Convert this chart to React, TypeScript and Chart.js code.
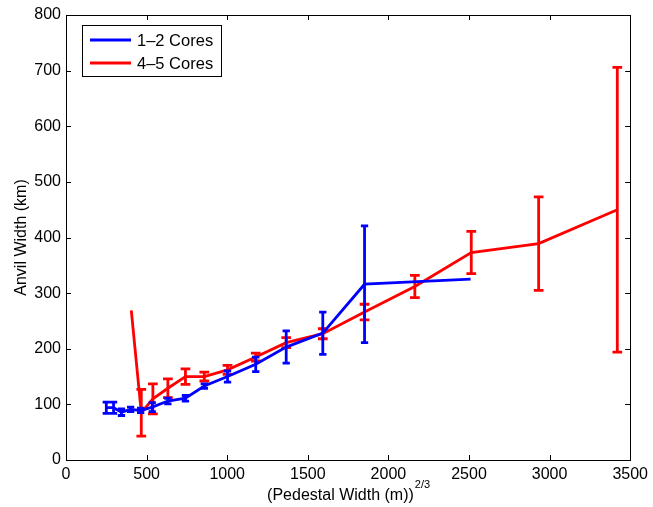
import React, { useEffect, useRef } from "react";
import { Chart, registerables } from "chart.js";

Chart.register(...registerables);

const FONT = "'Liberation Sans', Arial, Helvetica, sans-serif";

// 1–2 Cores
const blueX = [250, 295, 344, 401, 463, 535, 632, 741, 858, 1002, 1177, 1366, 1593, 1852, 2510];
const blueY = [94, 94, 86, 91, 89, 95, 106, 111, 133, 150, 172, 203, 228, 316, 325];
const blueErr = [10, 10, 6, 4, 4, 8, 5, 5, 4, 10, 13, 29, 38, 105, 0];

// 4–5 Cores
const redX = [405, 467, 539, 632, 741, 858, 1002, 1177, 1366, 1593, 1852, 2164, 2514, 2932, 3420];
const redY = [269, 85, 110, 129, 150, 150, 162, 185, 211, 227, 266, 312, 373, 389, 450];
const redErr = [0, 42, 27, 17, 14, 8, 8, 7, 9, 9, 14, 20, 38, 84, 256];

const seriesLabels = ["1\u20132 Cores", "4\u20135 Cores"];
const seriesColors = ["#0000ff", "#ff0000"];
const errs = [blueErr, redErr];

const xTicks = [0, 500, 1000, 1500, 2000, 2500, 3000, 3500];
const yTicks = [0, 100, 200, 300, 400, 500, 600, 700, 800];

const xTitle = "(Pedestal Width (m))";
const xTitleSup = "2/3";
const yTitle = "Anvil Width (km)";

const LW = 2.8;

export default function App() {
  const ref = useRef<HTMLCanvasElement | null>(null);

  useEffect(() => {
    const canvas = ref.current;
    if (!canvas) return;

    const errorBarPlugin = {
      id: "errorBars",
      afterDatasetDraw(chart: any, args: any) {
        const i = args.index;
        const ds = chart.data.datasets[i];
        const err = errs[i];
        const xs = ds.data.map((p: any) => p.x);
        const tee = (Math.max(...xs) - Math.min(...xs)) / 100;
        const xs_ = chart.scales.x;
        const ys_ = chart.scales.y;
        const ctx = chart.ctx;
        ctx.save();
        ctx.beginPath();
        ctx.rect(chart.chartArea.left, chart.chartArea.top, chart.chartArea.right - chart.chartArea.left, chart.chartArea.bottom - chart.chartArea.top);
        ctx.clip();
        ctx.strokeStyle = ds.borderColor;
        ctx.lineWidth = LW;
        ctx.lineCap = "butt";
        ds.data.forEach((p: any, k: number) => {
          const e = err[k];
          if (!e) return;
          const px = xs_.getPixelForValue(p.x);
          const pl = xs_.getPixelForValue(p.x - tee);
          const pr = xs_.getPixelForValue(p.x + tee);
          const top = ys_.getPixelForValue(p.y + e);
          const bot = ys_.getPixelForValue(p.y - e);
          ctx.beginPath();
          ctx.moveTo(px, top);
          ctx.lineTo(px, bot);
          ctx.moveTo(pl, top);
          ctx.lineTo(pr, top);
          ctx.moveTo(pl, bot);
          ctx.lineTo(pr, bot);
          ctx.stroke();
        });
        ctx.restore();
      },
    };

    const framePlugin = {
      id: "frame",
      afterDraw(chart: any) {
        const ctx = chart.ctx;
        const { left, right, top, bottom } = chart.chartArea;
        const xs_ = chart.scales.x;
        const ys_ = chart.scales.y;
        ctx.save();
        ctx.strokeStyle = "#000";
        ctx.lineWidth = 1;
        ctx.beginPath();
        xTicks.forEach((v) => {
          const px = Math.round(xs_.getPixelForValue(v)) + 0.5;
          ctx.moveTo(px, bottom);
          ctx.lineTo(px, bottom - 5);
          ctx.moveTo(px, top);
          ctx.lineTo(px, top + 5);
        });
        yTicks.forEach((v) => {
          const py = Math.round(ys_.getPixelForValue(v)) + 0.5;
          ctx.moveTo(left, py);
          ctx.lineTo(left + 5, py);
          ctx.moveTo(right, py);
          ctx.lineTo(right - 5, py);
        });
        ctx.stroke();
        ctx.strokeRect(Math.round(left) + 0.5, Math.round(top) + 0.5, Math.round(right - left), Math.round(bottom - top));

        // legend
        const lx = 82.5, ly = 25.5, lw = 139, lh = 51;
        ctx.fillStyle = "#fff";
        ctx.fillRect(lx, ly, lw, lh);
        ctx.strokeStyle = "#000";
        ctx.lineWidth = 1;
        ctx.strokeRect(lx, ly, lw, lh);
        ctx.font = "16.5px " + FONT;
        ctx.textBaseline = "middle";
        ctx.textAlign = "left";
        chart.data.datasets.forEach((ds: any, i: number) => {
          const yy = 40 + i * 23;
          ctx.strokeStyle = ds.borderColor;
          ctx.lineWidth = LW;
          ctx.beginPath();
          ctx.moveTo(90, yy);
          ctx.lineTo(131, yy);
          ctx.stroke();
          ctx.fillStyle = "#000";
          ctx.fillText(ds.label, 137, yy + 1);
        });

        // axis titles
        ctx.fillStyle = "#000";
        ctx.font = "16px " + FONT;
        const w1 = ctx.measureText(xTitle).width;
        ctx.font = "11px " + FONT;
        const w2 = ctx.measureText(xTitleSup).width;
        const cx = (left + right) / 2;
        const sx = cx - (w1 + w2) / 2;
        ctx.textBaseline = "alphabetic";
        ctx.font = "16px " + FONT;
        ctx.fillText(xTitle, sx, 500);
        ctx.font = "11px " + FONT;
        ctx.fillText(xTitleSup, sx + w1 + 1, 488);

        ctx.save();
        ctx.translate(26, (top + bottom) / 2);
        ctx.rotate(-Math.PI / 2);
        ctx.font = "16px " + FONT;
        ctx.textAlign = "center";
        ctx.textBaseline = "alphabetic";
        ctx.fillText(yTitle, 0, 0);
        ctx.restore();
        ctx.restore();
      },
    };

    const chart = new Chart(canvas, {
      type: "line",
      data: {
        datasets: [
          {
            label: seriesLabels[0],
            data: blueX.map((x, i) => ({ x, y: blueY[i] })),
            borderColor: seriesColors[0],
            backgroundColor: seriesColors[0],
            borderWidth: LW,
            pointRadius: 0,
            tension: 0,
          },
          {
            label: seriesLabels[1],
            data: redX.map((x, i) => ({ x, y: redY[i] })),
            borderColor: seriesColors[1],
            backgroundColor: seriesColors[1],
            borderWidth: LW,
            pointRadius: 0,
            tension: 0,
          },
        ],
      },
      options: {
        responsive: false,
        animation: false,
        layout: { padding: { left: 0, right: 20, top: 15, bottom: 0 } },
        plugins: {
          legend: { display: false },
          tooltip: { enabled: false },
        },
        scales: {
          x: {
            type: "linear",
            min: 0,
            max: 3500,
            grid: { display: false, drawTicks: false },
            border: { display: false },
            afterBuildTicks: (s: any) => {
              s.ticks = xTicks.map((v) => ({ value: v }));
            },
            afterFit: (s: any) => {
              s.height = 47;
            },
            ticks: {
              color: "#000",
              padding: 5,
              maxRotation: 0,
              autoSkip: false,
              font: { family: FONT, size: 16 },
              callback: (v: any) => String(v),
            },
          },
          y: {
            type: "linear",
            min: 0,
            max: 800,
            grid: { display: false, drawTicks: false },
            border: { display: false },
            afterBuildTicks: (s: any) => {
              s.ticks = yTicks.map((v) => ({ value: v }));
            },
            afterFit: (s: any) => {
              s.width = 66;
            },
            ticks: {
              color: "#000",
              padding: 5,
              autoSkip: false,
              font: { family: FONT, size: 16 },
              callback: (v: any) => String(v),
            },
          },
        },
      },
      plugins: [errorBarPlugin, framePlugin],
    } as any);

    return () => chart.destroy();
  }, []);

  return (
    <div style={{ position: "fixed", left: 0, top: 0, width: 653, height: 507, background: "#fff" }}>
      <canvas ref={ref} width={653} height={507} style={{ display: "block" }} />
    </div>
  );
}
